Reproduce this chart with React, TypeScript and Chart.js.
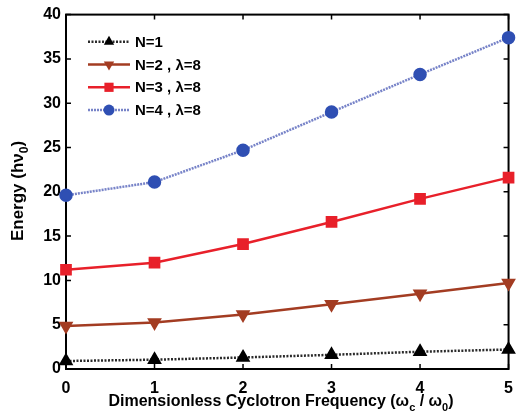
import React, { useEffect, useRef } from "react";
import { Chart, registerables } from "chart.js";

Chart.register(...registerables);

const xValues = [0, 1, 2, 3, 4, 5];
const n1Values = [0.9, 1.05, 1.3, 1.6, 1.95, 2.2];
const n2Values = [4.85, 5.25, 6.15, 7.3, 8.5, 9.7];
const n3Values = [11.2, 12.0, 14.1, 16.6, 19.2, 21.6];
const n4Values = [19.6, 21.1, 24.7, 29.0, 33.25, 37.4];
const seriesLabels = ["N=1", "N=2 , λ=8", "N=3 , λ=8", "N=4 , λ=8"];
const xTickValues = [0, 1, 2, 3, 4, 5];
const yTickValues = [0, 5, 10, 15, 20, 25, 30, 35, 40];

const FONT = "'Liberation Sans', Arial, sans-serif";

type Part = { t: string; sub?: boolean };

function drawRich(ctx: CanvasRenderingContext2D, parts: Part[], cx: number, cy: number, size: number) {
  const main = `bold ${size}px ${FONT}`;
  const small = `bold ${Math.round(size * 0.7)}px ${FONT}`;
  let total = 0;
  for (const p of parts) {
    ctx.font = p.sub ? small : main;
    total += ctx.measureText(p.t).width;
  }
  let x = cx - total / 2;
  ctx.textBaseline = "middle";
  ctx.textAlign = "left";
  for (const p of parts) {
    ctx.font = p.sub ? small : main;
    ctx.fillText(p.t, x, p.sub ? cy + size * 0.38 : cy);
    x += ctx.measureText(p.t).width;
  }
}

function drawMarker(ctx: CanvasRenderingContext2D, style: string, rot: number, r: number, x: number, y: number) {
  ctx.beginPath();
  if (style === "circle") {
    ctx.arc(x, y, r, 0, Math.PI * 2);
  } else if (style === "rect") {
    const s = r * Math.SQRT1_2;
    ctx.rect(x - s, y - s, 2 * s, 2 * s);
  } else {
    const base = (rot * Math.PI) / 180 - Math.PI / 2;
    for (let k = 0; k < 3; k++) {
      const a = base + (k * 2 * Math.PI) / 3;
      const px = x + Math.cos(a) * r;
      const py = y + Math.sin(a) * r;
      if (k === 0) ctx.moveTo(px, py);
      else ctx.lineTo(px, py);
    }
    ctx.closePath();
  }
  ctx.fill();
}

const framePlugin = {
  id: "frame",
  beforeDatasetsDraw(chart: any) {
    const { ctx, chartArea: a, scales } = chart;
    ctx.save();
    ctx.strokeStyle = "#000";
    ctx.lineWidth = 2;
    ctx.strokeRect(a.left, a.top, a.right - a.left, a.bottom - a.top);
    ctx.lineWidth = 1.5;
    const tl = 5;
    ctx.beginPath();
    for (const v of xTickValues) {
      const px = scales.x.getPixelForValue(v);
      ctx.moveTo(px, a.bottom);
      ctx.lineTo(px, a.bottom - tl);
      ctx.moveTo(px, a.top);
      ctx.lineTo(px, a.top + tl);
    }
    for (const v of yTickValues) {
      const py = scales.y.getPixelForValue(v);
      ctx.moveTo(a.left, py);
      ctx.lineTo(a.left + tl, py);
      ctx.moveTo(a.right, py);
      ctx.lineTo(a.right - tl, py);
    }
    ctx.stroke();
    ctx.restore();
  },
  afterDraw(chart: any) {
    const { ctx } = chart;
    ctx.save();
    ctx.fillStyle = "#000";
    const ds = chart.data.datasets;
    const y0 = 41.7;
    const dy = 22.8;
    ds.forEach((d: any, i: number) => {
      const y = y0 + i * dy;
      ctx.save();
      ctx.strokeStyle = d.borderColor;
      ctx.lineWidth = d.borderWidth;
      ctx.setLineDash(d.borderDash || []);
      ctx.beginPath();
      ctx.moveTo(88, y);
      ctx.lineTo(130, y);
      ctx.stroke();
      ctx.setLineDash([]);
      ctx.fillStyle = d.pointBackgroundColor;
      drawMarker(ctx, d.pointStyle, d.pointRotation || 0, d.pointRadius, 109, y);
      ctx.restore();
      ctx.fillStyle = "#000";
      ctx.font = `bold 15px ${FONT}`;
      ctx.textBaseline = "middle";
      ctx.textAlign = "left";
      ctx.fillText(d.label, 135, y + 1);
    });
    drawRich(ctx, [
      { t: "Dimensionless Cyclotron Frequency (ω" },
      { t: "c", sub: true },
      { t: " / ω" },
      { t: "0", sub: true },
      { t: ")" },
    ], 281, 402, 16);
    ctx.save();
    ctx.translate(18, 191);
    ctx.rotate(-Math.PI / 2);
    drawRich(ctx, [{ t: "Energy (hν" }, { t: "0", sub: true }, { t: ")" }], 0, 0, 17);
    ctx.restore();
    ctx.restore();
  },
};

export default function App() {
  const ref = useRef<HTMLCanvasElement | null>(null);
  useEffect(() => {
    if (!ref.current) return;
    const mk = (vals: number[]) => xValues.map((x, i) => ({ x, y: vals[i] }));
    const chart = new Chart(ref.current, {
      type: "line",
      data: {
        datasets: [
          {
            label: seriesLabels[0],
            data: mk(n1Values),
            borderColor: "#2a2a2a",
            borderWidth: 2.5,
            borderDash: [2, 1.5],
            pointStyle: "triangle",
            pointRadius: 6,
            pointBackgroundColor: "#000",
            pointBorderColor: "#000",
            clip: false,
          },
          {
            label: seriesLabels[1],
            data: mk(n2Values),
            borderColor: "#a33c22",
            borderWidth: 2.5,
            pointStyle: "triangle",
            pointRotation: 180,
            pointRadius: 6,
            pointBackgroundColor: "#a33c22",
            pointBorderColor: "#a33c22",
            clip: false,
          },
          {
            label: seriesLabels[2],
            data: mk(n3Values),
            borderColor: "#e8202a",
            borderWidth: 2.5,
            pointStyle: "rect",
            pointRadius: 6.5,
            pointBackgroundColor: "#e8202a",
            pointBorderColor: "#e8202a",
            clip: false,
          },
          {
            label: seriesLabels[3],
            data: mk(n4Values),
            borderColor: "#7783c8",
            borderWidth: 2.5,
            borderDash: [2, 1],
            pointStyle: "circle",
            pointRadius: 5.5,
            pointBackgroundColor: "#2f4fb3",
            pointBorderColor: "#2f4fb3",
            clip: false,
          },
        ] as any,
      },
      options: {
        responsive: false,
        animation: false,
        devicePixelRatio: 1,
        layout: { padding: { top: 12, right: 6, left: 0, bottom: 0 } },
        plugins: { legend: { display: false }, tooltip: { enabled: false } },
        elements: { line: { tension: 0 } },
        scales: {
          x: {
            type: "linear",
            min: 0,
            max: 5,
            afterFit: (s: any) => { s.height = 50; },
            afterBuildTicks: (s: any) => { s.ticks = xTickValues.map((v) => ({ value: v })); },
            grid: { display: false, drawTicks: false },
            border: { display: false },
            ticks: { color: "#000", padding: 10, font: { family: FONT, size: 16, weight: "bold" } },
          },
          y: {
            type: "linear",
            min: 0,
            max: 40,
            afterFit: (s: any) => { s.width = 66; },
            afterBuildTicks: (s: any) => { s.ticks = yTickValues.map((v) => ({ value: v })); },
            grid: { display: false, drawTicks: false },
            border: { display: false },
            ticks: { color: "#000", padding: 5, font: { family: FONT, size: 16, weight: "bold" } },
          },
        },
      } as any,
      plugins: [framePlugin],
    });
    return () => chart.destroy();
  }, []);
  return (
    <div style={{ position: "absolute", left: 0, top: 0, width: 523, height: 419, background: "#fff" }}>
      <canvas ref={ref} width={523} height={419} />
    </div>
  );
}
